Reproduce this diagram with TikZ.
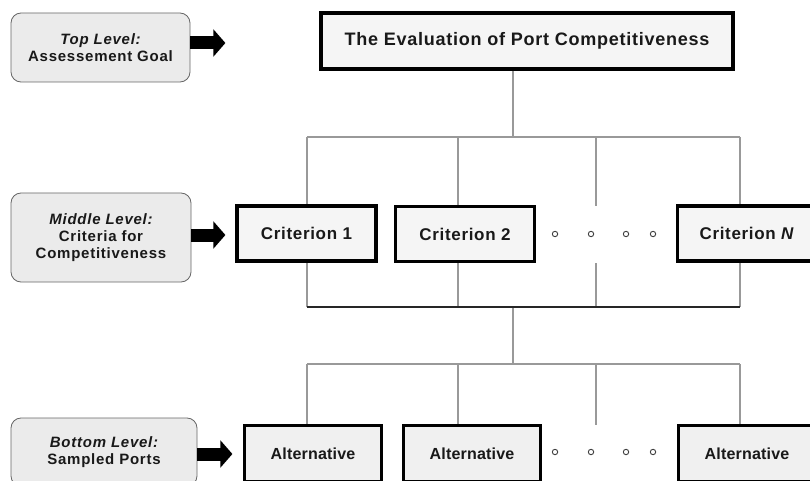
\documentclass[tikz,border=0pt]{standalone}
\usepackage{fontspec}
\setmainfont{Liberation Sans}
\usetikzlibrary{arrows.meta}

\newcommand{\goalfont}{\fontsize{15.4pt}{18pt}\selectfont\bfseries\addfontfeatures{LetterSpace=4}}
\newcommand{\critfont}{\fontsize{14.5pt}{17pt}\selectfont\bfseries\addfontfeatures{LetterSpace=4}}
\newcommand{\altfont}{\fontsize{13.7pt}{16pt}\selectfont\bfseries\addfontfeatures{LetterSpace=1}}
\newcommand{\lvlfont}{\fontsize{12.8pt}{14.3pt}\selectfont\bfseries\addfontfeatures{LetterSpace=5}}

\begin{document}
\begin{tikzpicture}
  [x=0.03cm, y=-0.03cm,
   lvl/.style={rectangle, draw=black!60, fill=black!8, line width=0.7pt,
     rounded corners=0.3cm, align=center, text=black!90, font=\lvlfont},
   goalbox/.style={rectangle, draw, fill=black!4, line width=3.4pt,
     minimum width=412*0.03cm, minimum height=56*0.03cm, text=black!90, font=\goalfont},
   critbox/.style={rectangle, draw, fill=black!4, line width=3.4pt,
     minimum width=139*0.03cm, minimum height=55*0.03cm, text=black!90, font=\critfont},
   altbox/.style={rectangle, draw, fill=black!6, line width=2.2pt,
     minimum width=137*0.03cm, minimum height=56*0.03cm, text=black!90, font=\altfont},
   blockarrow/.style={line width=0.39cm, -{Triangle[length=0.36cm, width=0.8cm]}},
   link/.style={draw=black!40, line width=1.6pt},
   bar/.style={draw=black!85, line width=1.2pt},
   dotmark/.style={draw=black!75, line width=0.8pt}]

  \useasboundingbox (0,0) rectangle (810,481);

  \node[lvl, minimum width=179*0.03cm, minimum height=69*0.03cm] (top_lvl) at (100.5,47.5)
    {\itshape Top Level:\\Assessement Goal};
  \node[lvl, minimum width=180*0.03cm, minimum height=89*0.03cm] (mid_lvl) at (101,237.5)
    {\itshape Middle Level:\\Criteria for\\Competitiveness};
  \node[lvl, minimum width=186*0.03cm, minimum height=68*0.03cm] (bot_lvl) at (104,452)
    {\itshape Bottom Level:\\Sampled Ports};

  \node[goalbox] (goal) at (527,41) {The Evaluation of Port Competitiveness};

  \node[critbox] (crit_1) at (306.5,233.5) {Criterion 1};
  \node[critbox] (crit_2) at (465,234) {Criterion 2};
  \node[critbox] (crit_n) at (747,233.5) {Criterion \textit{N}};

  \node[altbox] (alt_1) at (313,453.5) {Alternative};
  \node[altbox] (alt_2) at (472,453.5) {Alternative};
  \node[altbox] (alt_n) at (747,453.5) {Alternative};

  \coordinate (t_1) at (307,137);
  \coordinate (t_2) at (458,137);
  \coordinate (t_3) at (596,137);
  \coordinate (t_4) at (740,137);
  \coordinate (m_1) at (307,307);
  \coordinate (m_2) at (458,307);
  \coordinate (m_3) at (596,307);
  \coordinate (m_4) at (740,307);
  \coordinate (b_1) at (307,364);
  \coordinate (b_2) at (458,364);
  \coordinate (b_3) at (596,364);
  \coordinate (b_4) at (740,364);

  \draw[blockarrow] (top_lvl.east |- 0,43) -- ++(35,0);
  \draw[blockarrow] (mid_lvl.east |- 0,235) -- ++(34,0);
  \draw[blockarrow] (bot_lvl.east |- 0,454) -- ++(35,0);

  \draw[link] (goal.south -| 513,0) -- (513,137);
  \draw[link] (t_1) -- (t_4);
  \draw[link] (t_1) -- (t_1 |- crit_1.north);
  \draw[link] (t_2) -- (t_2 |- crit_2.north);
  \draw[link] (t_3) -- ++(0,69);
  \draw[link] (t_4) -- (t_4 |- crit_n.north);

  \draw[link] (m_1) -- (m_1 |- crit_1.south);
  \draw[link] (m_2) -- (m_2 |- crit_2.south);
  \draw[link] (m_3) -- ++(0,-44);
  \draw[link] (m_4) -- (m_4 |- crit_n.south);
  \draw[link] (513,307) -- (513,364);
  \draw[bar] (m_1) -- (m_4);

  \draw[link] (b_1) -- (b_4);
  \draw[link] (b_1) -- (b_1 |- alt_1.north);
  \draw[link] (b_2) -- (b_2 |- alt_2.north);
  \draw[link] (b_3) -- ++(0,61);
  \draw[link] (b_4) -- (b_4 |- alt_n.north);

  \foreach \x in {555,591,626,653} {
    \draw[dotmark] (\x,234) circle (2.7);
    \draw[dotmark] (\x,452) circle (2.7);
  }
\end{tikzpicture}
\end{document}
